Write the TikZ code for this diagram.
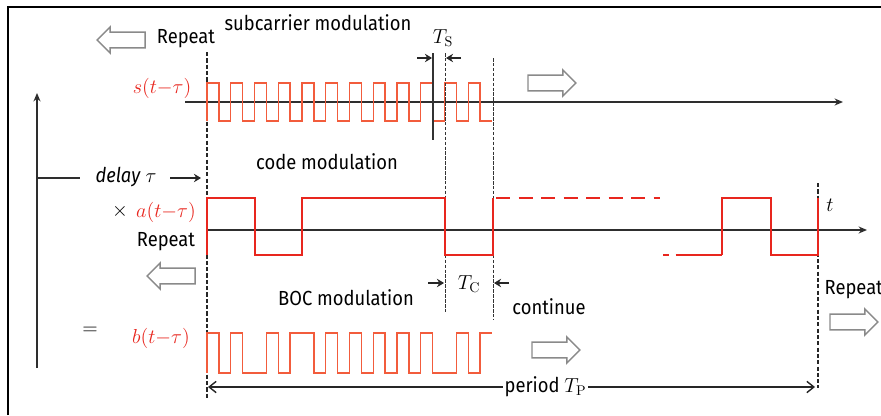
\documentclass[tikz,border=0pt]{standalone}
\usepackage[no-math]{fontspec}
\setmainfont{Fira Sans}[FakeStretch=0.9]
\usetikzlibrary{shapes,arrows,arrows.meta,positioning,calc}
\definecolor{sigred}{HTML}{E8261E}
\definecolor{subred}{HTML}{F25C3C}
\definecolor{axisgray}{HTML}{2E2E2E}
\definecolor{outlinegray}{HTML}{8A8A8A}

\begin{document}
\begin{tikzpicture}[x=0.025cm,y=-0.025cm,
  lbl/.style={font=\fontsize{14.5}{16}\selectfont,inner sep=1pt},
  sig/.style={font=\fontsize{15}{17}\selectfont,text=sigred,inner sep=1pt},
  axisln/.style={draw=axisgray,line width=1.2pt},
  wave/.style={draw=sigred,line width=1pt},
  subwave/.style={draw=subred,line width=1pt},
  guide/.style={draw=black!80,line width=0.7pt,dash pattern=on 2.5pt off 1pt},
  cutline/.style={draw=black!85,line width=1.4pt,dash pattern=on 3pt off 1.5pt},
  dimarr/.style={draw=black!85,line width=1pt,-{Stealth[length=5pt,width=6pt]}},
  hollow/.style={single arrow,draw=outlinegray,fill=white,line width=1pt,inner sep=0pt,inner ysep=0.18cm,single arrow head extend=0.13cm,minimum height=1.2cm}
]
\useasboundingbox (0,0) rectangle (881,415);
\draw[line width=0.8pt] (8,415) -- (8,7) -- (881,7);

% left axis
\coordinate (vbot) at (37,368);
\coordinate (vtop) at (37,93);
\coordinate (vmid) at (37,178);
\coordinate (vend) at (80,178);
\draw[axisln,-{Stealth[length=6pt,width=5pt]}] (vbot) -- (vtop);
\draw[axisln] (vmid) -- (vend);
\node[lbl] (delay) at (126,177) {\textit{delay} $\tau$};
\coordinate (dstart) at (170,178);
\coordinate (dend) at (201,178);
\draw[dimarr] (dstart) -- (dend);

% start and end of the period
\coordinate (p0top) at (207,52);
\coordinate (p0bot) at (207,398);
\coordinate (p1top) at (818,183);
\coordinate (p1bot) at (818,388);
\draw[cutline] (p0top) -- (p0bot);
\draw[cutline] (p1top) -- (p1bot);

% subcarrier row
\node[lbl] (subcar) at (318,23) {subcarrier modulation};
\node[lbl] (rep1) at (186,39) {Repeat};
\node[hollow,shape border rotate=180] (back1) at (125,40) {};
\node[sig,anchor=east] (sfun) at (193,88) {$s(t{-}\tau)$};
\node[hollow] (fwd1) at (548,83) {};
\coordinate (sax0) at (185,102);
\coordinate (sax1) at (843,102);
\draw[axisln,-{Stealth[length=6pt,width=5pt]}] (sax0) -- (sax1);
\draw[subwave] (207,121) \foreach \k in {0,...,23}
  { -- ({207+\k*11.875},{83+38*mod(\k,2)}) -- ({207+(\k+1)*11.875},{83+38*mod(\k,2)}) };
\coordinate (tsa) at (433,53);
\coordinate (tsb) at (433,140);
\coordinate (tca) at (445,53);
\coordinate (tcb) at (445,312);
\coordinate (tcc) at (493,58);
\coordinate (tcd) at (493,320);
\draw[draw=black!80,line width=0.8pt] (tsa) -- (tsb);
\draw[guide] (tca) -- (tcb);
\draw[guide] (tcc) -- (tcd);
\node[lbl] (ts) at (443,38) {$T_{\mathrm{S}}$};
\coordinate (tsl0) at (417,58);
\coordinate (tsl1) at (432,58);
\coordinate (tsr0) at (461,58);
\coordinate (tsr1) at (446,58);
\draw[dimarr] (tsl0) -- (tsl1);
\draw[dimarr] (tsr0) -- (tsr1);

% code row
\node[lbl] (code) at (327,162) {code modulation};
\node[lbl] (times) at (120,211) {$\times$};
\node[sig] (afun) at (166,212) {$a(t{-}\tau)$};
\node[lbl] (rep2) at (166,242) {Repeat};
\node[hollow,shape border rotate=180] (back2) at (175,276) {};
\coordinate (aax0) at (207,230);
\coordinate (aax1) at (867,230);
\draw[axisln,-{Stealth[length=6pt,width=5pt]}] (aax0) -- (aax1);
\node[lbl] (tvar) at (830,205) {$t$};
\draw[wave] (207,255) -- (207,198) -- (255,198) -- (255,255) -- (302,255) -- (302,198)
  -- (445,198) -- (445,255) -- (493,255) -- (493,198);
\draw[wave,dash pattern=on 10pt off 6pt] (496,198) -- (660,198);
\draw[wave,dash pattern=on 4pt off 5pt on 40pt] (663,255) -- (722,255);
\draw[wave] (722,255) -- (722,198) -- (771,198) -- (771,255) -- (818,255) -- (818,198);
\node[lbl] (tc) at (469,284) {$T_{\mathrm{C}}$};
\coordinate (tcl0) at (428,283);
\coordinate (tcl1) at (444,283);
\coordinate (tcr0) at (509,283);
\coordinate (tcr1) at (494,283);
\draw[dimarr] (tcl0) -- (tcl1);
\draw[dimarr] (tcr0) -- (tcr1);

% BOC row
\node[lbl] (boc) at (346,298) {BOC modulation};
\node[lbl] (cont) at (549,307) {continue};
\node[lbl,anchor=west] (rep3) at (823,290) {Repeat};
\node[hollow] (fwd3) at (850,322) {};
\node[lbl] (equal) at (90,331) {$=$};
\node[sig] (bfun) at (161,338) {$b(t{-}\tau)$};
\node[hollow] (fwd2) at (552,350) {};
\draw[subwave] (207,373) \foreach \v [count=\k from 0] in {1,0,1,0,0,1,0,1,1,0,1,0,1,0,1,0,1,0,1,0,0,1,0,1}
  { -- ({207+\k*11.875},{373-40*\v}) -- ({207+(\k+1)*11.875},{373-40*\v}) };

% period
\coordinate (per0) at (208,387);
\coordinate (per1) at (815,387);
\draw[draw=black!85,line width=1pt,{Straight Barb[length=5pt,width=8pt]}-{Straight Barb[length=5pt,width=8pt]}]
  (per0) -- node[lbl,fill=white,pos=0.556] (period) {period $T_{\mathrm{P}}$} (per1);
\end{tikzpicture}
\end{document}
